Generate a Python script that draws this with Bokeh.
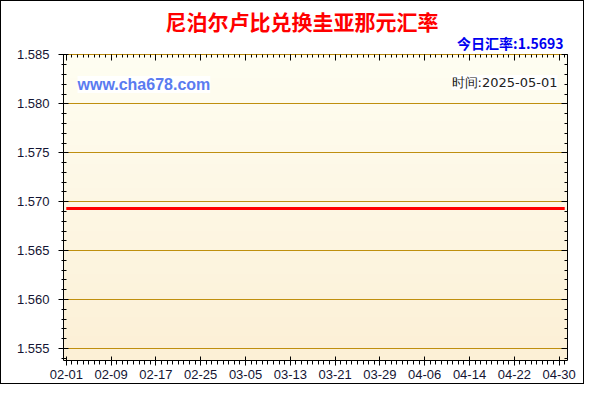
import numpy as np
import pandas as pd
from bokeh.plotting import figure
from bokeh.models import (LinearAxis, FixedTicker, Range1d, Label, Title,
                          ColumnDataSource, CustomJSTickFormatter, PrintfTickFormatter)
from bokeh.embed import file_html
from bokeh.resources import INLINE

# ---------------- data ----------------
dates = ["2025-02-01", "2025-02-09", "2025-02-17", "2025-02-25", "2025-03-05",
         "2025-03-13", "2025-03-21", "2025-03-29", "2025-04-06", "2025-04-14",
         "2025-04-22", "2025-04-30", "2025-05-01"]
rates = [1.5693, 1.5693, 1.5693, 1.5693, 1.5693, 1.5693, 1.5693,
         1.5693, 1.5693, 1.5693, 1.5693, 1.5693, 1.5693]
tick_dates = ["2025-02-01", "2025-02-09", "2025-02-17", "2025-02-25",
              "2025-03-05", "2025-03-13", "2025-03-21", "2025-03-29",
              "2025-04-06", "2025-04-14", "2025-04-22", "2025-04-30"]
tick_labels = ["02-01", "02-09", "02-17", "02-25", "03-05", "03-13",
               "03-21", "03-29", "04-06", "04-14", "04-22", "04-30"]
y_ticks = [1.555, 1.560, 1.565, 1.570, 1.575, 1.580, 1.585]
title_text = "尼泊尔卢比兑换圭亚那元汇率"
today_text = "今日汇率:1.5693"
site_text = "www.cha678.com"
time_text = "时间:2025-05-01"

# ---------------- derived ----------------
start = pd.Timestamp(dates[0])
x_days = [(pd.Timestamp(d) - start).days for d in dates]
tick_days = [(pd.Timestamp(d) - start).days for d in tick_dates]
last_day = x_days[-1]
x_lo, x_hi = -0.5, last_day + 0.5
y_lo, y_hi = 1.55377, 1.58505
minor_x = list(range(0, last_day + 1))
minor_y = [round(1.554 + 0.001 * i, 3) for i in range(32)]

src = ColumnDataSource(dict(x=x_days, y=rates))

frame_css = (":host{position:relative;}"
             ":host::after{content:'';position:absolute;left:0;top:0;right:0;bottom:0;"
             "border:1px solid #000;pointer-events:none;z-index:10;box-sizing:border-box;}")

p = figure(width=584, height=384, output_backend="svg", toolbar_location=None,
           x_range=Range1d(x_lo, x_hi), y_range=Range1d(y_lo, y_hi),
           min_border_left=63, min_border_right=17, min_border_top=54,
           min_border_bottom=24, x_axis_location=None, y_axis_location=None,
           stylesheets=[frame_css])
p.border_fill_color = "white"
p.background_fill_color = "#FEF7E6"
p.outline_line_color = None

# titles (p.title is outermost)
p.title.text = title_text
p.title.align = "left"
p.title.offset = 102
try:
    p.title.standoff = -14
except Exception:
    p.title.standoff = 0
p.title.text_font = "Noto Sans CJK SC"
p.title.text_font_style = "bold"
p.title.text_font_size = "21px"
p.title.text_color = "#FF0000"

today = Title(text=today_text, align="right", offset=4, standoff=4,
              text_font="Noto Sans CJK SC", text_font_style="bold",
              text_font_size="14px", text_color="#0000F0")

# gradient background
n = 64
top = np.array([255, 254, 242])
bot = np.array([252, 240, 214])
img = np.zeros((n, 1, 4), dtype=np.uint8)
for i in range(n):
    t = i / (n - 1)
    c = bot + (top - bot) * t
    img[i, 0, :3] = c.astype(np.uint8)
    img[i, 0, 3] = 255
p.image_rgba(image=[img.view(np.uint32).reshape(n, 1)], x=x_lo, y=y_lo,
             dw=x_hi - x_lo, dh=y_hi - y_lo, level="image")

xt = FixedTicker(ticks=tick_days, minor_ticks=minor_x)
yt = FixedTicker(ticks=y_ticks, minor_ticks=minor_y)
blank = CustomJSTickFormatter(code="return ''")
lab_col = "#141433"

xb = LinearAxis(ticker=xt, major_label_overrides={d: l for d, l in zip(tick_days, tick_labels)},
                major_tick_out=5, major_tick_in=4, minor_tick_out=4, minor_tick_in=0,
                major_label_standoff=4, axis_line_color="black",
                major_label_text_font="Liberation Sans",
                major_label_text_font_size="13px", major_label_text_color=lab_col)
xtop = LinearAxis(ticker=xt, formatter=blank, major_tick_out=0, major_tick_in=6,
                  minor_tick_out=0, minor_tick_in=3, axis_line_color="#B8860B",
                  major_label_standoff=0, major_label_text_font_size="1px")
yl = LinearAxis(ticker=yt, formatter=PrintfTickFormatter(format="%.3f"),
                major_tick_out=5, major_tick_in=5, minor_tick_out=2,
                minor_tick_in=3, major_label_standoff=9, axis_line_color="black",
                major_label_text_font="Liberation Sans",
                major_label_text_font_size="13px", major_label_text_color=lab_col)
yr = LinearAxis(ticker=yt, formatter=blank, major_tick_out=0, major_tick_in=6,
                minor_tick_out=0, minor_tick_in=3, axis_line_color="black",
                major_label_standoff=0, major_label_text_font_size="1px")
p.add_layout(xb, "below")
p.add_layout(xtop, "above")
p.add_layout(today, "above")
p.add_layout(yl, "left")
p.add_layout(yr, "right")

p.xgrid.visible = False
p.ygrid.ticker = yt
p.ygrid.grid_line_color = "#BF8F0F"
p.ygrid.grid_line_width = 1

p.line("x", "y", source=src, line_color="#FF0000", line_width=3)

# texts inside the frame (screen units relative to the plot frame)
p.add_layout(Label(x=14, y=276, x_units="screen", y_units="screen", text=site_text,
                   text_align="left", text_baseline="middle",
                   text_font="Liberation Sans", text_font_style="bold",
                   text_font_size="16px", text_color="#5A7BF0",
                   background_fill_color="white", background_fill_alpha=0.9))
p.add_layout(Label(x=494, y=278, x_units="screen", y_units="screen", text=time_text,
                   text_align="right", text_baseline="middle",
                   text_font="DejaVu Sans",
                   text_font_size="13px", text_color="#222222",
                   background_fill_color="white", background_fill_alpha=0.9))

open("out.html", "w").write(file_html(p, INLINE))
